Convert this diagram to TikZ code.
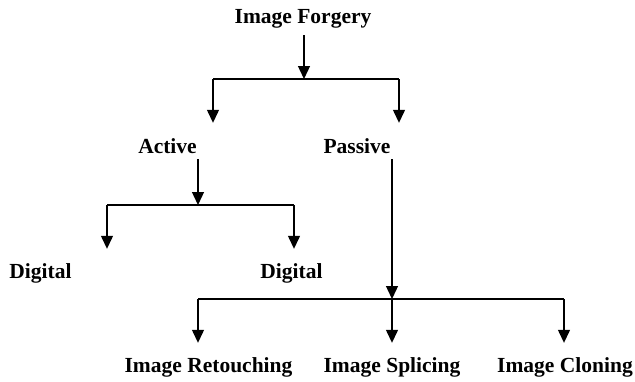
\documentclass[tikz,border=0pt]{standalone}
\usepackage{fontspec}
\setmainfont{Liberation Serif}
\usetikzlibrary{arrows.meta}
\begin{document}
\begin{tikzpicture}[x=1pt,y=-1pt,
  lbl/.style={font=\fontsize{21.5pt}{24pt}\selectfont\bfseries, inner sep=0pt, text height=15pt, text depth=5pt, anchor=base},
  ln/.style={line width=1.3pt, black},
  arr/.style={ln, -{Triangle[width=12pt,length=13pt]}}]
\useasboundingbox (0,0) rectangle (635,381);
% nodes
\node[lbl] (IF) at (303,23) {Image Forgery};
\node[lbl] (AC) at (167.5,153) {Active};
\node[lbl] (PA) at (357,153) {Passive};
\node[lbl] (D1) at (40.5,278) {Digital};
\node[lbl] (D2) at (291.5,278) {Digital};
\node[lbl] (RT) at (208.5,372) {Image Retouching};
\node[lbl] (SP) at (392,372) {Image Splicing};
\node[lbl] (CL) at (565,372) {Image Cloning};
% junctions
\coordinate (j1) at (304,79);
\coordinate (j1l) at (213,79);
\coordinate (j1r) at (399,79);
\coordinate (j2) at (198,205);
\coordinate (j2l) at (107,205);
\coordinate (j2r) at (294,205);
\coordinate (j3) at (392,299);
\coordinate (j3l) at (198,299);
\coordinate (j3r) at (564,299);
% level 1
\draw[arr, shorten <=7pt] (IF.south -| j1) -- (j1);
\draw[ln] (j1l) -- (j1r);
\draw[arr, shorten >=15pt] (j1l) -- (AC.north -| j1l);
\draw[arr, shorten >=15pt] (j1r) -- (PA.north -| j1r);
% active
\draw[arr, shorten <=1pt] (AC.south -| j2) -- (j2);
\draw[ln] (j2l) -- (j2r);
\draw[arr, shorten >=14pt] (j2l) -- (D1.north -| j2l);
\draw[arr, shorten >=14pt] (j2r) -- (D2.north -| j2r);
% passive
\draw[arr, shorten <=1pt] (PA.south -| j3) -- (j3);
\draw[ln] (j3l) -- (j3r);
\draw[arr, shorten >=14pt] (j3l) -- (RT.north -| j3l);
\draw[arr, shorten >=14pt] (j3) -- (SP.north -| j3);
\draw[arr, shorten >=14pt] (j3r) -- (CL.north -| j3r);
\end{tikzpicture}
\end{document}
